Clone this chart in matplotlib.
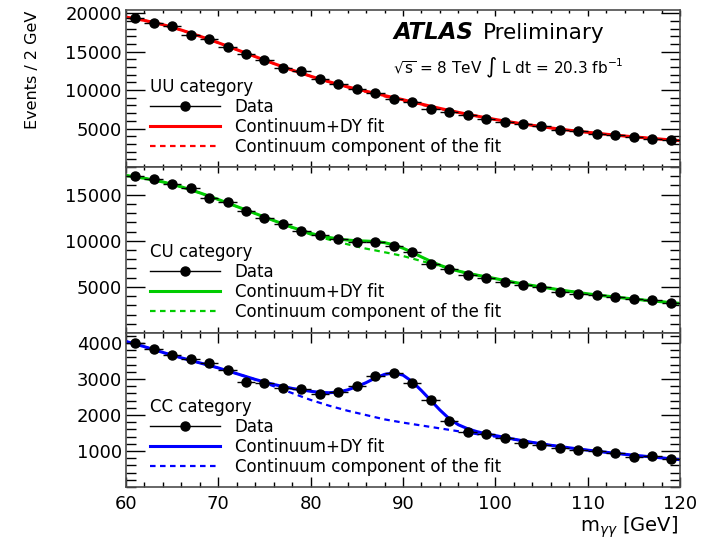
import matplotlib
matplotlib.use("Agg")
import matplotlib.pyplot as plt
from matplotlib.lines import Line2D
from matplotlib.ticker import MultipleLocator

# bin centres (2 GeV bins) and data per category
mass = [61, 63, 65, 67, 69, 71, 73, 75, 77, 79, 81, 83, 85, 87, 89,
        91, 93, 95, 97, 99, 101, 103, 105, 107, 109, 111, 113, 115, 117, 119]
bin_half_width = 1.0

uu_data = [19350, 18780, 18350, 17190, 16630, 15540, 14680, 13950, 12870, 12430,
           11440, 10800, 10150, 9630, 8890, 8410, 7550, 7170, 6720, 6260,
           5820, 5560, 5300, 4870, 4740, 4310, 4220, 3870, 3700, 3570]
cu_data = [16980, 16660, 16190, 15760, 14680, 14200, 13230, 12510, 11790, 11030,
           10600, 10200, 9870, 9870, 9430, 8790, 7520, 6890, 6300, 5940,
           5540, 5190, 5000, 4500, 4250, 4070, 3890, 3670, 3530, 3270]
cc_data = [4000, 3835, 3660, 3560, 3450, 3250, 2920, 2880, 2750, 2715,
           2580, 2640, 2810, 3080, 3155, 2880, 2410, 1840, 1540, 1475,
           1360, 1220, 1155, 1090, 1040, 990, 945, 835, 865, 770]

# fit curves
x_fit = [60, 62, 64, 66, 68, 70, 72, 74, 76, 78, 80,
         81, 82, 83, 84, 85, 86, 87, 88, 89, 90, 91, 92, 93, 94, 95, 96, 97, 98, 99, 100,
         102, 104, 106, 108, 110, 112, 114, 116, 118, 120]

uu_fit = [19480, 19050, 18500, 17800, 17000, 16150, 15250, 14350, 13450, 12600, 11800,
          11430, 11080, 10740, 10420, 10130, 9850, 9570, 9290, 9020, 8750, 8460, 8180, 7900, 7620,
          7360, 7100, 6860, 6620, 6400, 6180,
          5780, 5420, 5080, 4780, 4510, 4260, 4030, 3820, 3620, 3430]
uu_cont = [19480, 19050, 18500, 17800, 17000, 16150, 15250, 14350, 13450, 12600, 11800,
           11420, 11060, 10700, 10370, 10060, 9760, 9470, 9180, 8900, 8630, 8360, 8090, 7830, 7570,
           7320, 7080, 6860, 6620, 6400, 6180,
           5780, 5420, 5080, 4780, 4510, 4260, 4030, 3820, 3620, 3430]

cu_fit = [17080, 16780, 16380, 15850, 15200, 14480, 13720, 12960, 12200, 11460, 10810,
          10560, 10360, 10200, 10080, 10000, 9970, 9920, 9800, 9560, 9200, 8750, 8250, 7780, 7350,
          7000, 6720, 6480, 6280, 6090, 5900,
          5500, 5150, 4830, 4530, 4250, 4010, 3790, 3580, 3390, 3210]
cu_cont = [17080, 16780, 16380, 15850, 15200, 14480, 13720, 12960, 12200, 11420, 10680,
           10400, 10130, 9870, 9620, 9380, 9150, 8960, 8760, 8560, 8350, 8080, 7800, 7550, 7280,
           6990, 6720, 6480, 6280, 6090, 5900,
           5500, 5150, 4830, 4530, 4250, 4010, 3790, 3580, 3390, 3210]

cc_fit = [4045, 3900, 3740, 3590, 3450, 3310, 3150, 2990, 2850, 2740, 2660,
          2630, 2620, 2640, 2700, 2790, 2900, 3030, 3130, 3170, 3110, 2930, 2680, 2410, 2140,
          1900, 1730, 1620, 1540, 1480, 1430,
          1330, 1240, 1160, 1090, 1025, 965, 910, 860, 810, 760]
cc_cont = [4045, 3900, 3740, 3590, 3450, 3310, 3150, 2990, 2800, 2610, 2420,
           2340, 2260, 2190, 2120, 2060, 2000, 1940, 1880, 1835, 1790, 1750, 1710, 1670, 1630,
           1590, 1550, 1510, 1470, 1435, 1400,
           1325, 1240, 1160, 1090, 1025, 965, 910, 860, 810, 760]

panels = [
    ("UU category", uu_data, uu_fit, uu_cont, "#ff0000", 20400, [5000, 10000, 15000, 20000], 1000),
    ("CU category", cu_data, cu_fit, cu_cont, "#00cc00", 18000, [5000, 10000, 15000], 1000),
    ("CC category", cc_data, cc_fit, cc_cont, "#0000ff", 4280, [1000, 2000, 3000, 4000], 200),
]

# panel boxes in figure fraction [left, bottom, width, height]
boxes = [
    [0.1767, 0.6907, 0.777, 0.2907],
    [0.1767, 0.3833, 0.777, 0.3074],
    [0.1767, 0.0981, 0.777, 0.2852],
]
legend_tops = [0.568, 0.544, 0.581]

fig = plt.figure(figsize=(7.13, 5.40), dpi=100)

axes = []
for i, (name, data, fit, cont, col, ytop, yt, yminor) in enumerate(panels):
    ax = fig.add_axes(boxes[i])
    axes.append(ax)
    ax.plot(x_fit, fit, color=col, lw=2.2, zorder=2)
    ax.plot(x_fit, cont, color=col, lw=1.6, ls=(0, (2.5, 2)), zorder=2)
    ax.errorbar(mass, data, xerr=bin_half_width, fmt='o', color='k', ms=6.5,
                elinewidth=1, capsize=0, zorder=3)
    ax.set_xlim(60, 120)
    ax.set_ylim(0, ytop)
    ax.set_yticks(yt)
    ax.yaxis.set_minor_locator(MultipleLocator(yminor))
    ax.xaxis.set_major_locator(MultipleLocator(10))
    ax.xaxis.set_minor_locator(MultipleLocator(2))
    ax.tick_params(axis='y', which='major', direction='in', length=14, width=1,
                   left=True, right=True, labelsize=13, pad=3)
    ax.tick_params(axis='y', which='minor', direction='in', length=7, width=1,
                   left=True, right=True)
    xl = 7.5 if i == 2 else 4.5
    ax.tick_params(axis='x', which='major', direction='in', length=xl, width=1,
                   top=True, bottom=True, labelsize=13, pad=6)
    ax.tick_params(axis='x', which='minor', direction='in', length=xl / 2, width=1,
                   top=True, bottom=True)
    if i < 2:
        ax.tick_params(axis='x', labelbottom=False)
    for s in ax.spines.values():
        s.set_linewidth(1.2)
        s.set_color('0.3')

    handles = [
        Line2D([], [], color='k', lw=1, marker='o', ms=6.5),
        Line2D([], [], color=col, lw=2.2),
        Line2D([], [], color=col, lw=1.6, ls=(0, (2.5, 2))),
    ]
    labels = ["Data", "Continuum+DY fit", "Continuum component of the fit"]
    leg = ax.legend(handles, labels, title=name, loc='upper left',
                    bbox_to_anchor=(0.043, legend_tops[i]),
                    frameon=False, fontsize=12, title_fontsize=12,
                    alignment='left', handlelength=4.2, handletextpad=0.9,
                    labelspacing=0.12, borderpad=0, borderaxespad=0, numpoints=1)
    leg.set_zorder(5)

ax1 = axes[0]
ax1.text(0.482, 0.854, "ATLAS", transform=ax1.transAxes, fontsize=16.5,
         fontweight='bold', fontstyle='italic', va='center', ha='left')
ax1.text(0.645, 0.854, "Preliminary", transform=ax1.transAxes, fontsize=15.5,
         va='center', ha='left')
ax1.text(0.482, 0.629, r"$\sqrt{\mathrm{s}}$ = 8 TeV $\int$ L dt = 20.3 fb$^{\mathrm{-1}}$",
         transform=ax1.transAxes, fontsize=11, va='center', ha='left')

fig.text(0.045, 0.98, "Events / 2 GeV", rotation=90, ha='center', va='top', fontsize=11.5)
fig.text(0.951, 0.024, r"m$_{\gamma\gamma}$ [GeV]", ha='right', va='center', fontsize=14)

fig.savefig("out.png", dpi=100)
